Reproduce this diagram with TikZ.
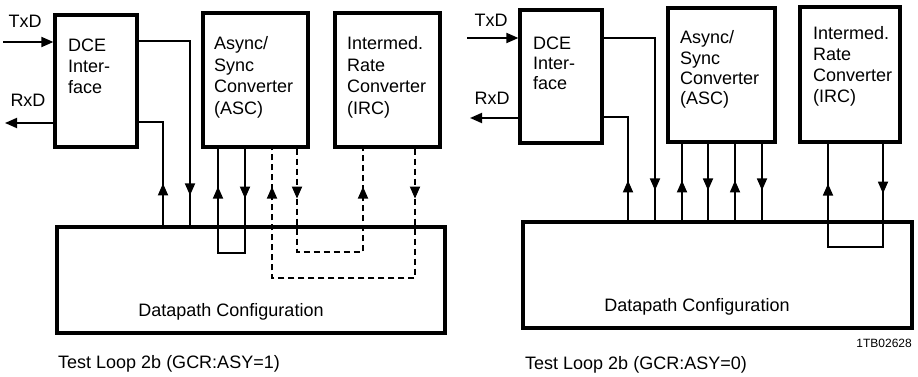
\documentclass[tikz,border=0pt]{standalone}
\usepackage{fontspec}
\setmainfont{Liberation Sans}
\usetikzlibrary{arrows.meta,decorations.markings}
\tikzset{
  Tri/.tip={Triangle[length=12pt,width=10pt]},
  blk/.style={draw, line width=3.2pt, inner sep=0pt},
  conn/.style={line width=1.8pt},
  dsh/.style={dash pattern=on 6pt off 4pt},
  lbl/.style={font=\fontsize{18}{21}\selectfont, inner sep=0pt, align=left},
  tipone/.style={postaction={decorate, decoration={markings, mark=at position #1 with {\arrow{Tri}}}}},
  tiptwo/.style 2 args={postaction={decorate, decoration={markings, mark=at position #1 with {\arrow{Tri}}, mark=at position #2 with {\arrow{Tri}}}}},
}
\begin{document}
\begin{tikzpicture}[x=1pt,y=-1pt]
\fill[white] (0,0) rectangle (918,377);
\useasboundingbox (0,0) rectangle (918,377);

% ---------------- left diagram ----------------
\node[blk, minimum width=82pt, minimum height=132pt] (dce1) at (96,81) {};
\node[blk, minimum width=105pt, minimum height=134pt] (asc1) at (255.5,80) {};
\node[blk, minimum width=105pt, minimum height=134pt] (irc1) at (387.5,80) {};
\node[blk, minimum width=388pt, minimum height=106pt] (dp1) at (251,280) {};

\node[lbl, anchor=north west] (dcet1) at (68,38.5) {DCE\\Inter-\\face};
\node[lbl, anchor=north west, font=\fontsize{18}{21.6}\selectfont] (asct1) at (214,36.5) {Async/\\Sync\\Converter\\(ASC)};
\node[lbl, anchor=north west, font=\fontsize{18}{21.6}\selectfont] (irct1) at (347,36.5) {Intermed.\\Rate\\Converter\\(IRC)};
\node[lbl] (dpt1) at (231,312) {Datapath Configuration};
\node[lbl, anchor=west] (cap1) at (58,364) {Test Loop 2b (GCR:ASY=1)};

\node[lbl] (txl1) at (25,21) {TxD};
\node[lbl] (rxl1) at (28,100) {RxD};
\coordinate (tx1) at (3,42);
\coordinate (rx1) at (5,123);
\draw[conn, -{Tri}] (tx1) -- (dce1.west |- tx1);
\draw[conn, -{Tri}] (dce1.west |- rx1) -- (rx1);

\draw[conn, tipone={-30pt}] (dce1.east |- 0,41) -| (dp1.north -| 190,0);
\draw[conn, tipone={42pt}] (dp1.north -| 163,0) |- (dce1.east |- 0,122);
\draw[conn, tiptwo={50pt}{-38pt}] (asc1.south -| 245,0) -- (245,253) -- (218,253) -- (asc1.south -| 218,0);
\draw[conn, dsh, tiptwo={50pt}{-38pt}] (irc1.south -| 415,0) -- (415,278) -- (272,278) -- (asc1.south -| 272,0);
\draw[conn, dsh, tiptwo={50pt}{-38pt}] (asc1.south -| 297,0) -- (297,252) -- (363,252) -- (irc1.south -| 363,0);

% ---------------- right diagram ----------------
\node[blk, minimum width=82pt, minimum height=133pt] (dce2) at (561,76.5) {};
\node[blk, minimum width=107pt, minimum height=134pt] (asc2) at (721.5,75) {};
\node[blk, minimum width=100pt, minimum height=135pt] (irc2) at (850,74.5) {};
\node[blk, minimum width=389pt, minimum height=106pt] (dp2) at (717.5,275) {};

\node[lbl, anchor=north west, font=\fontsize{18}{20}\selectfont] (dcet2) at (533,36.5) {DCE\\Inter-\\face};
\node[lbl, anchor=north west, font=\fontsize{18}{20.3}\selectfont] (asct2) at (680,30.5) {Async/\\Sync\\Converter\\(ASC)};
\node[lbl, anchor=north west, font=\fontsize{18}{21}\selectfont] (irct2) at (813,26.5) {Intermed.\\Rate\\Converter\\(IRC)};
\node[lbl] (dpt2) at (697,307) {Datapath Configuration};
\node[lbl, anchor=west] (cap2) at (525,365) {Test Loop 2b (GCR:ASY=0)};
\node[lbl, anchor=east, font=\fontsize{12}{14}\selectfont] (id2) at (912,343) {1TB02628};

\node[lbl] (txl2) at (491,20) {TxD};
\node[lbl] (rxl2) at (492,98) {RxD};
\coordinate (tx2) at (467,38);
\coordinate (rx2) at (470,118);
\draw[conn, -{Tri}] (tx2) -- (dce2.west |- tx2);
\draw[conn, -{Tri}] (dce2.west |- rx2) -- (rx2);

\draw[conn, tipone={-30pt}] (dce2.east |- 0,38) -| (dp2.north -| 655,0);
\draw[conn, tipone={40pt}] (dp2.north -| 628,0) |- (dce2.east |- 0,117);
\draw[conn, tipone={40pt}] (dp2.north -| 682,0) -- (asc2.south -| 682,0);
\draw[conn, tipone={-30pt}] (asc2.south -| 708,0) -- (dp2.north -| 708,0);
\draw[conn, tipone={40pt}] (dp2.north -| 735,0) -- (asc2.south -| 735,0);
\draw[conn, tipone={-30pt}] (asc2.south -| 762,0) -- (dp2.north -| 762,0);
\draw[conn, tiptwo={50pt}{-40pt}] (irc2.south -| 883,0) -- (883,247) -- (828,247) -- (irc2.south -| 828,0);
\end{tikzpicture}
\end{document}
